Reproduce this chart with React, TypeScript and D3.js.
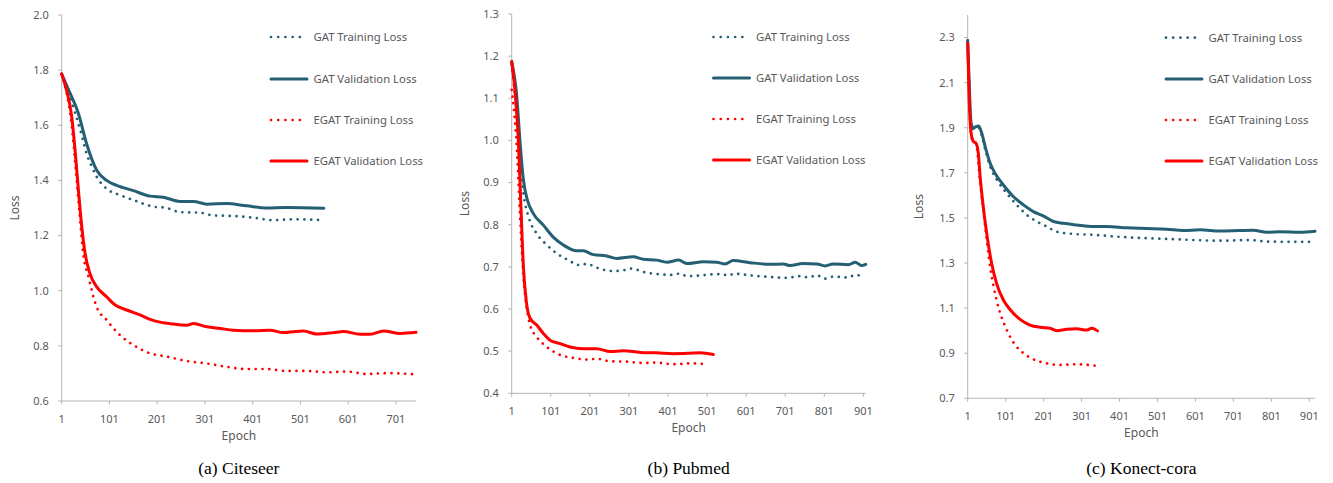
import * as d3 from 'd3';

type Pt = [number, number];

// ---- (a) Citeseer: [epoch, loss]
const citeseerGatTrain: Pt[] = [
  [1, 1.786], [15, 1.72], [30, 1.64], [45, 1.55], [53, 1.498], [64, 1.45], [74, 1.414], [95, 1.37], [123, 1.347],
  [151, 1.329], [193, 1.305], [221, 1.3], [249, 1.285], [291, 1.283], [319, 1.273], [360, 1.271],
  [402, 1.265], [444, 1.256], [486, 1.259], [548, 1.256],
];
const citeseerGatVal: Pt[] = [
  [1, 1.786], [15, 1.73], [36, 1.643], [53, 1.534], [74, 1.438], [95, 1.4], [116, 1.382], [151, 1.363],
  [186, 1.343], [214, 1.339], [249, 1.324], [277, 1.324], [305, 1.314], [346, 1.316], [388, 1.308],
  [430, 1.3], [472, 1.302], [550, 1.299],
];
const citeseerEgatTrain: Pt[] = [
  [1, 1.786], [11, 1.72], [22, 1.6], [30, 1.45], [39, 1.268], [46, 1.135], [57, 1.051], [74, 0.942], [95, 0.894],
  [123, 0.839], [151, 0.803], [186, 0.773], [221, 0.761], [263, 0.745], [305, 0.736], [346, 0.724],
  [388, 0.716], [430, 0.716], [472, 0.709], [514, 0.709], [556, 0.704], [598, 0.707], [640, 0.698],
  [682, 0.701], [737, 0.697],
];
const citeseerEgatVal: Pt[] = [
  [1, 1.786], [11, 1.728], [22, 1.631], [29, 1.51], [36, 1.365], [43, 1.232], [50, 1.135], [60, 1.063],
  [74, 1.015], [95, 0.978], [113, 0.948], [137, 0.93], [165, 0.912], [186, 0.896], [207, 0.886],
  [235, 0.879], [263, 0.875], [277, 0.881], [305, 0.869], [333, 0.863], [360, 0.857], [402, 0.855],
  [437, 0.857], [465, 0.848], [507, 0.854], [535, 0.843], [570, 0.848], [591, 0.852], [626, 0.842],
  [647, 0.842], [675, 0.854], [710, 0.845], [743, 0.849],
];

// ---- (b) Pubmed
const pubmedGatTrain: Pt[] = [
  [1, 1.18], [12, 1.08], [22, 0.961], [31, 0.874], [44, 0.819], [65, 0.779], [91, 0.752], [116, 0.732],
  [142, 0.718], [176, 0.704], [193, 0.707], [219, 0.698], [261, 0.69], [287, 0.692], [308, 0.696],
  [338, 0.688], [372, 0.683], [406, 0.681], [432, 0.684], [449, 0.678], [500, 0.681], [526, 0.683],
  [560, 0.68], [568, 0.684], [611, 0.68], [662, 0.676], [705, 0.674], [739, 0.678], [760, 0.675],
  [782, 0.68], [803, 0.672], [824, 0.677], [863, 0.675], [880, 0.681], [901, 0.677],
];
const pubmedGatVal: Pt[] = [
  [1, 1.187], [14, 1.104], [22, 1.001], [31, 0.906], [41, 0.859], [56, 0.827], [82, 0.799], [108, 0.77],
  [133, 0.752], [167, 0.738], [184, 0.738], [210, 0.729], [244, 0.726], [270, 0.72], [312, 0.724],
  [338, 0.718], [372, 0.716], [398, 0.711], [428, 0.716], [449, 0.708], [492, 0.712], [526, 0.711],
  [547, 0.707], [568, 0.715], [611, 0.71], [662, 0.706], [696, 0.707], [713, 0.703], [747, 0.708],
  [782, 0.707], [803, 0.702], [824, 0.707], [863, 0.705], [880, 0.711], [897, 0.703], [907, 0.706],
];
const pubmedEgatTrain: Pt[] = [
  [1, 1.12], [14, 0.985], [22, 0.827], [31, 0.677], [39, 0.605], [48, 0.562], [65, 0.534], [91, 0.51],
  [125, 0.491], [159, 0.484], [193, 0.48], [219, 0.482], [253, 0.476], [295, 0.475], [338, 0.472],
  [372, 0.473], [415, 0.469], [457, 0.471], [504, 0.469],
];
const pubmedEgatVal: Pt[] = [
  [1, 1.187], [10, 1.112], [18, 1.001], [24, 0.859], [31, 0.7], [38, 0.621], [48, 0.578], [65, 0.562],
  [82, 0.542], [99, 0.526], [125, 0.518], [150, 0.51], [184, 0.506], [219, 0.506], [253, 0.499],
  [287, 0.501], [330, 0.497], [372, 0.496], [415, 0.494], [457, 0.495], [483, 0.496], [517, 0.492],
];

// ---- (c) Konect-cora
const coraGatTrain: Pt[] = [
  [1, 2.287], [5, 2.1], [10, 1.915], [16, 1.895], [23, 1.9], [30, 1.9], [38, 1.865], [47, 1.805],
  [60, 1.728], [78, 1.669], [104, 1.609], [130, 1.558], [157, 1.513], [183, 1.484], [209, 1.462],
  [235, 1.439], [279, 1.429], [332, 1.425], [393, 1.417], [455, 1.411], [525, 1.407], [595, 1.402],
  [666, 1.399], [745, 1.402], [789, 1.395], [859, 1.394], [916, 1.394],
];
const coraGatVal: Pt[] = [
  [1, 2.287], [5, 2.097], [10, 1.92], [16, 1.898], [23, 1.905], [30, 1.908], [38, 1.876], [47, 1.816],
  [60, 1.743], [73, 1.698], [95, 1.646], [121, 1.595], [148, 1.558], [174, 1.528], [200, 1.509],
  [227, 1.484], [253, 1.476], [288, 1.469], [332, 1.462], [367, 1.462], [420, 1.456], [472, 1.453],
  [525, 1.45], [569, 1.444], [613, 1.447], [666, 1.442], [718, 1.444], [753, 1.445], [789, 1.436],
  [824, 1.439], [876, 1.436], [916, 1.441],
];
const coraEgatTrain: Pt[] = [
  [1, 2.275], [5, 2.02], [10, 1.87], [16, 1.835], [23, 1.831], [33, 1.669], [47, 1.462], [60, 1.284],
  [77, 1.136], [104, 1.003], [126, 0.937], [148, 0.9], [174, 0.873], [209, 0.855], [244, 0.848],
  [288, 0.851], [336, 0.845],
];
const coraEgatVal: Pt[] = [
  [1, 2.275], [5, 2.023], [10, 1.876], [16, 1.839], [23, 1.831], [29, 1.787], [33, 1.698], [42, 1.55],
  [51, 1.432], [64, 1.299], [77, 1.21], [95, 1.136], [112, 1.095], [139, 1.05], [165, 1.025],
  [192, 1.015], [218, 1.011], [235, 1.0], [262, 1.006], [288, 1.008], [315, 1.003], [328, 1.011],
  [343, 0.999],
];

const seriesNames = ['GAT Training Loss', 'GAT Validation Loss', 'EGAT Training Loss', 'EGAT Validation Loss'];
const xTicks = [1, 101, 201, 301, 401, 501, 601, 701, 801, 901];
const captions = ['(a) Citeseer', '(b) Pubmed', '(c) Konect-cora'];

const TEAL = '#245f74';
const RED = '#ff0000';
const GRAY = '#595959';
const AXIS = '#b4b4b4';
const FONT = '"Noto Sans", "Open Sans", sans-serif';

const styles = [
  { color: TEAL, dotted: true },
  { color: TEAL, dotted: false },
  { color: RED, dotted: true },
  { color: RED, dotted: false },
];

type PanelCfg = {
  caption: string;
  series: Pt[][];
  xMax: number;
  xTickMax: number;
  yDomain: [number, number];
  yTicks: number[];
  left: number;
  right: number;
  top: number;
  bottom: number;
  lossX: number;
  legendX: number;
  legendY: number[];
};

const panels: PanelCfg[] = [
  {
    caption: captions[0],
    series: [citeseerGatTrain, citeseerGatVal, citeseerEgatTrain, citeseerEgatVal],
    xMax: 743, xTickMax: 701,
    yDomain: [0.6, 2.0], yTicks: d3.range(0.6, 2.01, 0.2),
    left: 61.7, right: 416, top: 15, bottom: 401, lossX: 15,
    legendX: 271, legendY: [37, 79, 120, 161],
  },
  {
    caption: captions[1],
    series: [pubmedGatTrain, pubmedGatVal, pubmedEgatTrain, pubmedEgatVal],
    xMax: 907, xTickMax: 901,
    yDomain: [0.4, 1.3], yTicks: d3.range(0.4, 1.31, 0.1),
    left: 511.7, right: 865.7, top: 14, bottom: 393.3, lossX: 465,
    legendX: 713.5, legendY: [37, 78, 119, 160],
  },
  {
    caption: captions[2],
    series: [coraGatTrain, coraGatVal, coraEgatTrain, coraEgatVal],
    xMax: 916, xTickMax: 901,
    yDomain: [0.7, 2.4], yTicks: d3.range(0.7, 2.31, 0.2),
    left: 967.7, right: 1315, top: 15, bottom: 398.3, lossX: 919,
    legendX: 1166, legendY: [37.7, 79, 120, 161],
  },
];

function Panel({ p }: { p: PanelCfg }) {
  const x = d3.scaleLinear().domain([1, p.xMax]).range([p.left, p.right]);
  const y = d3.scaleLinear().domain(p.yDomain).range([p.bottom, p.top]);
  const line = d3.line<Pt>().x((d) => x(d[0])).y((d) => y(d[1])).curve(d3.curveMonotoneX);
  const midX = (p.left + p.right) / 2;
  const midY = (p.top + p.bottom) / 2;

  return (
    <g>
      {/* axes */}
      <line x1={p.left} x2={p.left} y1={p.top} y2={p.bottom} stroke={AXIS} strokeWidth={1} />
      <line x1={p.left} x2={p.right} y1={p.bottom} y2={p.bottom} stroke={AXIS} strokeWidth={1} />
      {p.yTicks.map((t) => (
        <g key={'y' + t} transform={`translate(0, ${y(t)})`}>
          <line x1={p.left - 3.5} x2={p.left} stroke={AXIS} />
          <text x={p.left - 13} dy="0.35em" textAnchor="end" fill={GRAY} style={{ font: `11px ${FONT}` }}>
            {t.toFixed(1)}
          </text>
        </g>
      ))}
      {xTicks.filter((t) => t <= p.xTickMax).map((t) => (
        <g key={'x' + t} transform={`translate(${x(t)}, 0)`}>
          <line y1={p.bottom} y2={p.bottom + 3.5} stroke={AXIS} />
          <text y={p.bottom + 21.5} textAnchor="middle" fill={GRAY} style={{ font: `11px ${FONT}` }}>
            {t}
          </text>
        </g>
      ))}
      <text x={midX} y={p.bottom + 39} textAnchor="middle" fill={GRAY} style={{ font: `12px ${FONT}` }}>
        Epoch
      </text>
      <text transform={`translate(${p.lossX + 4}, ${midY}) rotate(-90)`} textAnchor="middle" fill={GRAY}
        style={{ font: `12px ${FONT}` }}>
        Loss
      </text>

      {/* series */}
      {p.series.map((s, i) => (
        <path key={i} d={line(s) || ''} fill="none" stroke={styles[i].color}
          strokeWidth={styles[i].dotted ? 2.7 : 3} strokeLinecap="round" strokeLinejoin="round"
          strokeDasharray={styles[i].dotted ? '0.01 6.8' : undefined} />
      ))}

      {/* legend */}
      {seriesNames.map((name, i) => (
        <g key={name} transform={`translate(${p.legendX}, ${p.legendY[i]})`}>
          <line x1={0} x2={36} stroke={styles[i].color} strokeWidth={styles[i].dotted ? 2.7 : 3}
            strokeLinecap="round" strokeDasharray={styles[i].dotted ? '0.01 7.2' : undefined} />
          <text x={42.5} dy="0.35em" fill={GRAY} style={{ font: `11.3px ${FONT}` }}>{name}</text>
        </g>
      ))}

      <text x={midX} y={474} textAnchor="middle" fill="#000"
        style={{ font: '17.5px "Liberation Serif", "Times New Roman", serif' }}>
        {p.caption}
      </text>
    </g>
  );
}

export default function App() {
  return (
    <svg width={1333} height={483} style={{ position: 'absolute', left: 0, top: 0, background: '#fff' }}>
      <rect width={1333} height={483} fill="#fff" />
      {panels.map((p) => <Panel key={p.caption} p={p} />)}
    </svg>
  );
}
